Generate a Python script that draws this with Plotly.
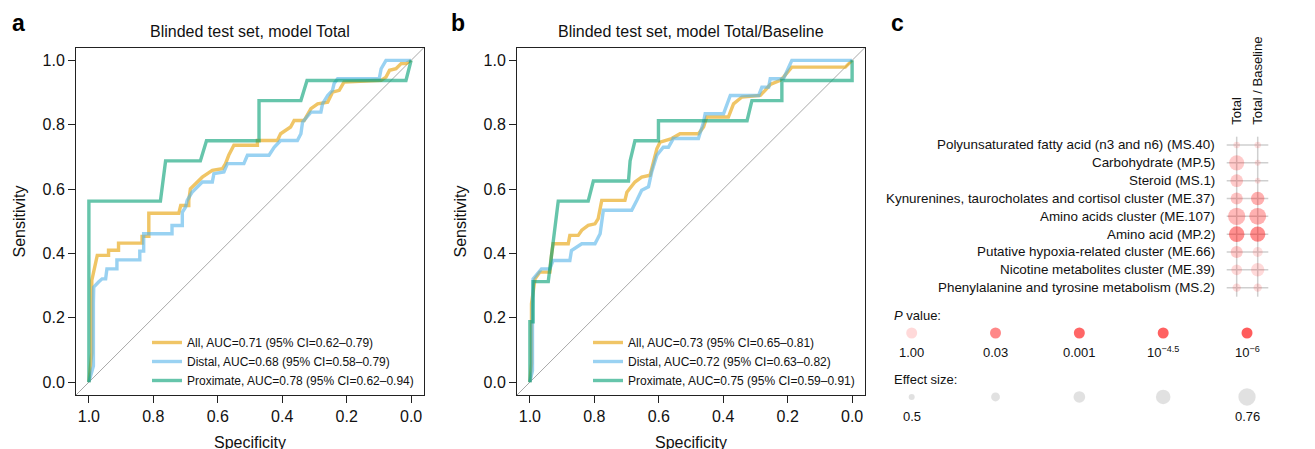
import numpy as np
import plotly.graph_objects as go

# page body has an 8px margin: figure is placed at (8, 8) in the 1315x449 window
OFF = 8
W, H = 1315 - OFF, 449 - OFF
FONT = "Liberation Sans, Arial, Helvetica, sans-serif"


def px(x):
    return (x - OFF) / W


def py(y):
    return 1 - (y - OFF) / H


# ---------------- Data: panel a (model Total) ----------------
spec_a_all = [1.0, 0.991, 0.991, 0.984, 0.979, 0.974, 0.939, 0.939, 0.908, 0.908, 0.835, 0.835, 0.814, 0.814,
              0.721, 0.715, 0.69, 0.69, 0.685, 0.669, 0.648, 0.617, 0.586, 0.576, 0.566, 0.55, 0.477, 0.477,
              0.415, 0.405, 0.374, 0.363, 0.332, 0.311, 0.29, 0.259, 0.244, 0.223, 0.208, 0.093, 0.078, 0.067,
              0.047, 0.031, 0.016, 0.0]
sens_a_all = [0.0, 0.09, 0.316, 0.352, 0.373, 0.394, 0.394, 0.41, 0.41, 0.432, 0.432, 0.453, 0.453, 0.525,
              0.525, 0.549, 0.549, 0.565, 0.601, 0.617, 0.637, 0.658, 0.663, 0.679, 0.705, 0.736, 0.736, 0.751,
              0.751, 0.772, 0.793, 0.813, 0.813, 0.85, 0.865, 0.87, 0.901, 0.907, 0.933, 0.938, 0.948, 0.969,
              0.974, 0.99, 0.99, 1.0]
spec_a_dist = [1.0, 0.986, 0.986, 0.985, 0.97, 0.959, 0.948, 0.944, 0.913, 0.913, 0.842, 0.842, 0.83, 0.83,
               0.742, 0.742, 0.71, 0.71, 0.7, 0.695, 0.68, 0.648, 0.617, 0.612, 0.581, 0.57, 0.519, 0.508,
               0.441, 0.425, 0.405, 0.353, 0.342, 0.337, 0.311, 0.28, 0.275, 0.259, 0.244, 0.239, 0.228,
               0.099, 0.093, 0.078, 0.0]
sens_a_dist = [0.0, 0.05, 0.244, 0.295, 0.311, 0.321, 0.321, 0.352, 0.352, 0.38, 0.38, 0.407, 0.407, 0.461,
               0.461, 0.487, 0.487, 0.528, 0.544, 0.565, 0.59, 0.622, 0.622, 0.648, 0.653, 0.679, 0.679, 0.705,
               0.705, 0.73, 0.751, 0.751, 0.772, 0.808, 0.839, 0.839, 0.865, 0.891, 0.907, 0.928, 0.943,
               0.943, 0.974, 1.0, 1.0]
spec_a_prox = [1.0, 1.0, 0.778, 0.762, 0.654, 0.635, 0.472, 0.472, 0.342, 0.323, 0.016, 0.0]
sens_a_prox = [0.0, 0.5625, 0.5625, 0.6875, 0.6875, 0.75, 0.75, 0.875, 0.875, 0.9375, 0.9375, 1.0]
auc_a = [0.71, 0.68, 0.78]
ci_lo_a = [0.62, 0.58, 0.62]
ci_hi_a = [0.79, 0.79, 0.94]

# ---------------- Data: panel b (model Total/Baseline) ----------------
spec_b_all = [1.0, 0.995, 0.995, 0.984, 0.969, 0.938, 0.933, 0.928, 0.881, 0.876, 0.85, 0.839, 0.819, 0.798,
              0.788, 0.777, 0.705, 0.699, 0.674, 0.653, 0.627, 0.617, 0.606, 0.596, 0.56, 0.534, 0.477, 0.461,
              0.451, 0.384, 0.368, 0.342, 0.285, 0.27, 0.254, 0.223, 0.213, 0.187, 0.021, 0.0]
sens_b_all = [0.0, 0.058, 0.244, 0.321, 0.342, 0.342, 0.394, 0.43, 0.43, 0.456, 0.456, 0.472, 0.487, 0.492,
              0.508, 0.565, 0.565, 0.59, 0.622, 0.637, 0.643, 0.679, 0.725, 0.746, 0.757, 0.772, 0.772, 0.793,
              0.824, 0.824, 0.865, 0.886, 0.891, 0.907, 0.925, 0.938, 0.948, 0.979, 0.979, 1.0]
spec_b_dist = [1.0, 0.992, 0.992, 0.99, 0.964, 0.938, 0.928, 0.876, 0.871, 0.839, 0.798, 0.782, 0.772, 0.684,
               0.668, 0.653, 0.632, 0.622, 0.606, 0.586, 0.57, 0.555, 0.477, 0.461, 0.456, 0.399, 0.378, 0.29,
               0.28, 0.259, 0.254, 0.213, 0.187, 0.0]
sens_b_dist = [0.0, 0.036, 0.223, 0.321, 0.352, 0.352, 0.378, 0.378, 0.409, 0.43, 0.43, 0.461, 0.534, 0.534,
               0.565, 0.596, 0.607, 0.653, 0.705, 0.73, 0.73, 0.757, 0.757, 0.808, 0.834, 0.834, 0.891, 0.891,
               0.917, 0.917, 0.943, 0.943, 1.0, 1.0]
spec_b_prox = [1.0, 1.0, 0.99, 0.99, 0.943, 0.912, 0.819, 0.803, 0.694, 0.689, 0.674, 0.601, 0.601, 0.326,
               0.311, 0.218, 0.218, 0.0, 0.0]
sens_b_prox = [0.0, 0.1875, 0.1875, 0.3125, 0.3125, 0.5625, 0.5625, 0.625, 0.625, 0.6875, 0.75, 0.75, 0.8125,
               0.8125, 0.875, 0.875, 0.9375, 0.9375, 1.0]
auc_b = [0.73, 0.72, 0.75]
ci_lo_b = [0.65, 0.63, 0.59]
ci_hi_b = [0.81, 0.82, 0.91]

groups = ["All", "Distal", "Proximate"]
group_colors = ["#E69F00", "#56B4E9", "#009E73"]
axis_ticks = [1.0, 0.8, 0.6, 0.4, 0.2, 0.0]

# ---------------- Data: panel c ----------------
pathways = ["Polyunsaturated fatty acid (n3 and n6) (MS.40)", "Carbohydrate (MP.5)", "Steroid (MS.1)",
            "Kynurenines, taurocholates and cortisol cluster (ME.37)", "Amino acids cluster (ME.107)",
            "Amino acid (MP.2)", "Putative hypoxia-related cluster (ME.66)", "Nicotine metabolites cluster (ME.39)",
            "Phenylalanine and tyrosine metabolism (MS.2)"]
models = ["Total", "Total / Baseline"]
effect_total = [0.515, 0.71, 0.655, 0.64, 0.76, 0.72, 0.64, 0.61, 0.555]
effect_tb = [0.512, 0.50, 0.495, 0.67, 0.75, 0.712, 0.595, 0.67, 0.555]
p_total = [0.8, 0.2, 0.2, 0.15, 0.07, 1e-5, 0.2, 0.5, 0.6]
p_tb = [0.8, 0.9, 0.8, 0.04, 0.04, 1e-6, 0.7, 0.5, 0.6]
legend_p_values = [1.0, 0.03, 0.001, 10 ** -4.5, 1e-6]
legend_p_labels = ["1.00", "0.03", "0.001", "10<sup>\u22124.5</sup>", "10<sup>\u22126</sup>"]
legend_effects = [0.5, 0.565, 0.63, 0.695, 0.76]
legend_effect_labels = ["0.5", "", "", "", "0.76"]


def effect_to_size(e):
    return 6 + (np.asarray(e, dtype=float) - 0.5) / 0.26 * 11.3


def p_to_color(p):
    lp = -np.log10(np.asarray(p, dtype=float))
    alpha = np.interp(lp, [0, 1.52, 3, 4.5, 6], [0.15, 0.47, 0.6, 0.62, 0.64])
    return [f"rgba(255,0,0,{a:.3f})" for a in np.atleast_1d(alpha)]


fig = go.Figure()

panels = [
    dict(xa="x", ya="y", leg="legend", curves=[(spec_a_all, sens_a_all), (spec_a_dist, sens_a_dist),
                                               (spec_a_prox, sens_a_prox)], auc=auc_a, lo=ci_lo_a, hi=ci_hi_a),
    dict(xa="x2", ya="y2", leg="legend2", curves=[(spec_b_all, sens_b_all), (spec_b_dist, sens_b_dist),
                                                  (spec_b_prox, sens_b_prox)], auc=auc_b, lo=ci_lo_b, hi=ci_hi_b),
]

for pn in panels:
    for g, col, (sp, se), a, lo, hi in zip(groups, group_colors, pn["curves"], pn["auc"], pn["lo"], pn["hi"]):
        fig.add_trace(go.Scatter(
            x=sp, y=se, mode="lines", xaxis=pn["xa"], yaxis=pn["ya"], legend=pn["leg"],
            line=dict(color=col, width=3.4), opacity=0.6,
            name=f"{g}, AUC={a:.2f} (95% CI={lo:.2f}\u2013{hi:.2f})",
        ))

PAD = 0.04
for xa, ya in [("x", "y"), ("x2", "y2")]:
    fig.add_shape(type="line", xref=xa, yref=ya, x0=1 + PAD, y0=-PAD, x1=-PAD, y1=1 + PAD,
                  line=dict(color="#a8a8a8", width=1), layer="below")

axis_common = dict(showgrid=False, zeroline=False, showline=True, mirror=True, linecolor="#222", linewidth=1,
                   ticks="outside", ticklen=7, tickwidth=1, tickcolor="#222",
                   tickfont=dict(size=16, color="#111", family=FONT),
                   tickvals=axis_ticks, ticktext=[f"{t:.1f}" for t in axis_ticks])

fig.update_layout(
    xaxis=dict(domain=[px(76), px(424)], range=[1 + PAD, -PAD], anchor="y", **axis_common),
    yaxis=dict(domain=[py(395), py(47.5)], range=[-PAD, 1 + PAD], anchor="x", **axis_common),
    xaxis2=dict(domain=[px(517), px(865)], range=[1 + PAD, -PAD], anchor="y2", **axis_common),
    yaxis2=dict(domain=[py(395), py(47.5)], range=[-PAD, 1 + PAD], anchor="x2", **axis_common),
)

leg_common = dict(font=dict(size=12, color="#111", family=FONT), bgcolor="rgba(0,0,0,0)",
                  xanchor="left", yanchor="bottom", tracegroupgap=0, itemwidth=30)
fig.update_layout(
    legend=dict(x=px(147), y=py(395), **leg_common),
    legend2=dict(x=px(588), y=py(395), **leg_common),
)

# ---------------- Panel c: dot matrix ----------------
fig.update_layout(
    xaxis3=dict(domain=[px(1215), px(1280)], range=[-1.033, 2.062], visible=False, anchor="y3"),
    yaxis3=dict(domain=[py(305), py(130)], range=[8.974, -0.841], visible=False, anchor="x3"),
    xaxis4=dict(domain=[px(880), px(1300)], range=[-0.378, 4.632], visible=False, anchor="y4"),
    yaxis4=dict(domain=[py(430), py(300)], range=[1.516, -0.516], visible=False, anchor="x4"),
)

rows = list(range(len(pathways)))
for i in rows:
    fig.add_shape(type="line", xref="x3", yref="y3", x0=-0.476, x1=1.505, y0=i, y1=i,
                  line=dict(color="#cfcfcf", width=1.5), layer="below")
for j in range(len(models)):
    fig.add_shape(type="line", xref="x3", yref="y3", x0=j, x1=j, y0=-0.466, y1=len(pathways) - 0.492,
                  line=dict(color="#cfcfcf", width=1.5), layer="below")

for j, (eff, pv) in enumerate([(effect_total, p_total), (effect_tb, p_tb)]):
    fig.add_trace(go.Scatter(
        x=[j] * len(pathways), y=rows, mode="markers", xaxis="x3", yaxis="y3", showlegend=False,
        marker=dict(size=effect_to_size(eff), color=p_to_color(pv), line=dict(width=0)),
        hovertext=pathways,
    ))

for i, name in enumerate(pathways):
    fig.add_annotation(x=-0.924, y=i, xref="x3", yref="y3", text=name, showarrow=False,
                       xanchor="right", yanchor="middle", font=dict(size=13.4, color="#111", family=FONT))
for j, m in enumerate(models):
    fig.add_annotation(x=j, y=py(127), xref="x3", yref="paper", text=m, showarrow=False, textangle=-90,
                       xanchor="center", yanchor="bottom", font=dict(size=13, color="#111", family=FONT))

# legend of panel c
idx = list(range(len(legend_p_values)))
fig.add_trace(go.Scatter(x=idx, y=[0] * len(idx), mode="markers", xaxis="x4", yaxis="y4", showlegend=False,
                         marker=dict(size=11, color=p_to_color(legend_p_values), line=dict(width=0))))
fig.add_trace(go.Scatter(x=idx, y=[1] * len(idx), mode="markers", xaxis="x4", yaxis="y4", showlegend=False,
                         marker=dict(size=effect_to_size(legend_effects), color="#d4d4d4", line=dict(width=0))))
for k, lab in enumerate(legend_p_labels):
    fig.add_annotation(x=k, y=0.3, xref="x4", yref="y4", text=lab, showarrow=False, xanchor="center",
                       yanchor="middle", font=dict(size=13, color="#111", family=FONT))
for k, lab in enumerate(legend_effect_labels):
    if lab:
        fig.add_annotation(x=k, y=1.31, xref="x4", yref="y4", text=lab, showarrow=False, xanchor="center",
                           yanchor="middle", font=dict(size=13, color="#111", family=FONT))
fig.add_annotation(x=px(892), y=py(315), xref="paper", yref="paper", text="<i>P</i> value:", showarrow=False,
                   xanchor="left", yanchor="middle", font=dict(size=13, color="#111", family=FONT))
fig.add_annotation(x=px(892), y=py(379), xref="paper", yref="paper", text="Effect size:", showarrow=False,
                   xanchor="left", yanchor="middle", font=dict(size=13, color="#111", family=FONT))

# ---------------- Titles / labels ----------------
for lx, letter in [(10, "a"), (449, "b"), (889, "c")]:
    fig.add_annotation(x=px(lx), y=py(23), xref="paper", yref="paper", text=f"<b>{letter}</b>", showarrow=False,
                       xanchor="left", yanchor="middle", font=dict(size=23, color="#000", family=FONT))
for cx, t in [(250, "Blinded test set, model Total"), (691, "Blinded test set, model Total/Baseline")]:
    fig.add_annotation(x=px(cx), y=py(31), xref="paper", yref="paper", text=t, showarrow=False,
                       xanchor="center", yanchor="middle", font=dict(size=16, color="#111", family=FONT))
    fig.add_annotation(x=px(cx), y=py(442), xref="paper", yref="paper", text="Specificity", showarrow=False,
                       xanchor="center", yanchor="middle", font=dict(size=16, color="#111", family=FONT))
for sx in [18.5, 459.5]:
    fig.add_annotation(x=px(sx), y=py(222), xref="paper", yref="paper", text="Sensitivity", showarrow=False,
                       textangle=-90, xanchor="center", yanchor="middle",
                       font=dict(size=16, color="#111", family=FONT))

fig.update_layout(
    width=W, height=H, autosize=False, margin=dict(l=0, r=0, t=0, b=0),
    paper_bgcolor="white", plot_bgcolor="white", font=dict(family=FONT, color="#111"),
    showlegend=True,
)

fig.write_html("out.html")
